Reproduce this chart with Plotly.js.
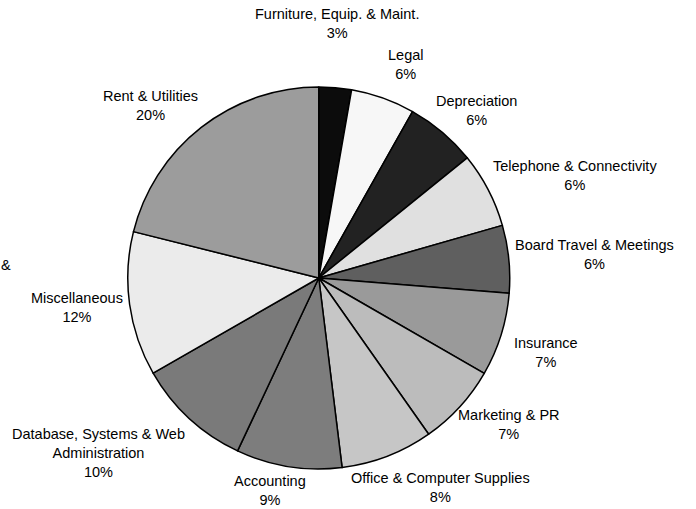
<!DOCTYPE html>
<html>
<head>
<meta charset="utf-8">
<script src="https://cdn.plot.ly/plotly-3.0.1.min.js"></script>
<style>html,body{margin:0;padding:0;background:#fff;}#chart{width:696px;height:509px;}</style>
</head>
<body>
<div id="chart"></div>
<script>
const categories = [
  "Furniture, Equip. & Maint.",
  "Legal",
  "Depreciation",
  "Telephone & Connectivity",
  "Board Travel & Meetings",
  "Insurance",
  "Marketing & PR",
  "Office & Computer Supplies",
  "Accounting",
  "Database, Systems & Web<br>Administration",
  "Miscellaneous",
  "Rent & Utilities"
];
// slice sizes
const values = [2.75, 5.42, 6.0, 6.39, 5.72, 7.05, 6.92, 7.81, 8.94, 9.72, 12.2, 21.1];
// percentages as printed on the chart's labels
const shownPercent = [3, 6, 6, 6, 6, 7, 7, 8, 9, 10, 12, 20];
const sliceColors = ["#0c0c0c", "#f7f7f7", "#222222", "#e0e0e0", "#5f5f5f", "#9a9a9a",
  "#bcbcbc", "#c6c6c6", "#7d7d7d", "#7a7a7a", "#ebebeb", "#9c9c9c"];

// layout: label block centres in page pixels (text placement only)
const labelPos = [
  [337, 23], [405, 64], [477, 110], [575, 175.5], [594, 254.5], [546, 352],
  [509, 424.5], [440, 487], [270, 491], [98, 453], [77, 307], [150, 105.5]
];

const W = 696, H = 509, M = { l: 0, r: 0, t: 87, b: 40 };
const toPaperX = px => (px - M.l) / (W - M.l - M.r);
const toPaperY = py => (H - M.b - py) / (H - M.t - M.b);

const trace = {
  type: "pie",
  labels: categories,
  values: values,
  sort: false,
  direction: "clockwise",
  rotation: 0,
  marker: { colors: sliceColors, line: { color: "#000", width: 1.5 } },
  textinfo: "none",
  domain: { x: [0.183, 0.733], y: [0, 1] },
  automargin: false,
  hoverinfo: "none"
};

const labelFont = { family: "Liberation Sans, Arial, sans-serif", size: 14.5, color: "#000" };
const annotations = categories.map((c, i) => ({
  text: c + "<br>" + shownPercent[i] + "%",
  xref: "paper", yref: "paper",
  x: toPaperX(labelPos[i][0]), y: toPaperY(labelPos[i][1]),
  xanchor: "center", yanchor: "middle", align: "center",
  showarrow: false, font: labelFont
}));
annotations.push({
  text: "&", xref: "paper", yref: "paper", x: toPaperX(-1), y: toPaperY(265),
  xanchor: "left", yanchor: "middle", showarrow: false, font: labelFont
});

const layout = {
  width: W, height: H,
  margin: M,
  showlegend: false,
  paper_bgcolor: "#fff",
  font: labelFont,
  annotations: annotations
};

Plotly.newPlot("chart", [trace], layout, { staticPlot: true, displayModeBar: false });
</script>
</body>
</html>
